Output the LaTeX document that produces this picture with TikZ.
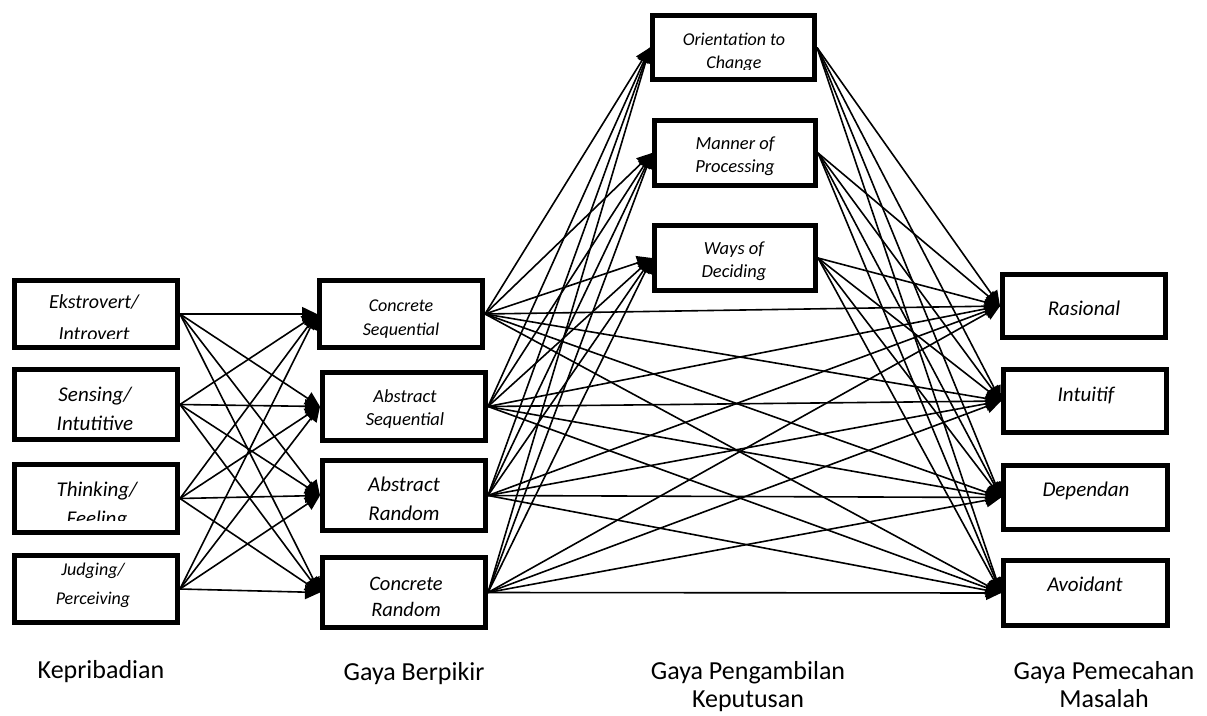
\documentclass[tikz,border=0pt]{standalone}
\usepackage{fontspec}
\setmainfont{Carlito}
\usetikzlibrary{arrows.meta}
\newcommand{\fsz}[2]{\fontsize{#1}{#2}\selectfont}
\newcommand{\twol}[2]{\begin{tabular}[t]{@{}c@{}}#1\\#2\end{tabular}}
\begin{document}
\begin{tikzpicture}[x=1pt,y=-1pt,
  box/.style={draw,line width=5pt,fill=white,inner sep=0pt,minimum width=163pt,minimum height=67pt},
  lbl/.style={font=\itshape,inner sep=0pt,anchor=base},
  conn/.style={line width=1.6pt,-{Triangle[length=15pt,width=14pt]}},
  colcaption/.style={inner sep=0pt,anchor=base,align=center,font=\fsz{26}{28}}]
\useasboundingbox (0,0) rectangle (1207,715);

% boxes
\node[box,minimum height=67pt] (a1) at (96,314) {};
\node[box,minimum height=70pt] (a2) at (96,404.5) {};
\node[box,minimum height=68pt] (a3) at (96,498.5) {};
\node[box,minimum height=67pt] (a4) at (96,589) {};

\node[box,minimum height=67pt] (b1) at (401,314) {};
\node[box,minimum height=68pt] (b2) at (404,406.5) {};
\node[box,minimum height=70pt] (b3) at (404,495.5) {};
\node[box,minimum height=70pt] (b4) at (404,592.5) {};

\node[box,minimum width=162pt,minimum height=64pt] (c1) at (733.5,47.5) {};
\node[box,minimum width=161pt,minimum height=65pt] (c2) at (735,153) {};
\node[box,minimum width=161pt,minimum height=65pt] (c3) at (735,258) {};

\node[box,minimum height=63pt] (d1) at (1084,306) {};
\node[box,minimum height=63pt] (d2) at (1085,401) {};
\node[box,minimum width=164pt,minimum height=64pt] (d3) at (1085.5,497.5) {};
\node[box,minimum width=164pt,minimum height=65pt] (d4) at (1085.5,593) {};

% connectors
\foreach \i in {1,...,4}{
  \foreach \j in {1,...,4}{
    \draw[conn] (a\i.east) -- (b\j.west);
    \draw[conn] (b\i.east) -- (d\j.west);
  }
  \foreach \j in {1,...,3}{
    \draw[conn] (b\i.east) -- (c\j.west);
  }
}
\foreach \i in {1,...,3}{
  \foreach \j in {1,...,4}{
    \draw[conn] (c\i.east) -- (d\j.west);
  }
}

% box texts
\begin{scope}
\clip (14,280) rectangle (178,338);
\node[lbl] (t1) at (94,308) {\fsz{20}{32}\itshape\twol{Ekstrovert/}{Introvert}};
\end{scope}
\node[lbl] (t2) at (95,401) {\fsz{21}{29}\itshape\twol{Sensing/}{Intutitive}};
\begin{scope}
\clip (14,464) rectangle (178,520);
\node[lbl] (t3) at (97,496.5) {\fsz{21}{28.5}\itshape\twol{Thinking/}{Feeling}};
\end{scope}
\node[lbl] (t4) at (93,575) {\fsz{18}{29}\itshape\twol{Judging/}{Perceiving}};

\node[lbl] (u1) at (401,311) {\fsz{18}{24}\itshape\twol{Concrete}{Sequential}};
\node[lbl] (u2) at (405,402) {\fsz{18.5}{23}\itshape\twol{Abstract}{Sequential}};
\node[lbl] (u3) at (404,491.5) {\fsz{21}{29}\itshape\twol{Abstract}{Random}};
\node[lbl] (u4) at (406,590) {\fsz{20.5}{26}\itshape\twol{Concrete}{Random}};

\begin{scope}
\clip (652,15) rectangle (815,69);
\node[lbl] (v1) at (734,45) {\fsz{18}{23.5}\itshape\twol{Orientation to}{Change}};
\end{scope}
\node[lbl] (v2) at (735,149) {\fsz{18.5}{23}\itshape\twol{Manner of}{Processing}};
\node[lbl] (v3) at (734,254) {\fsz{18.5}{23}\itshape\twol{Ways of}{Deciding}};

\node[lbl] (w1) at (1084,315.5) {\fsz{21}{25}Rasional};
\node[lbl] (w2) at (1086,401.5) {\fsz{21}{25}Intuitif};
\node[lbl] (w3) at (1086,496.5) {\fsz{21}{25}Dependan};
\node[lbl] (w4) at (1085,591.5) {\fsz{21}{25}Avoidant};

% column captions
\node[colcaption] (k1) at (101,678) {Kepribadian};
\node[colcaption] (k2) at (414,680) {Gaya Berpikir};
\node[colcaption] (k3) at (748,679) {\twol{Gaya Pengambilan}{Keputusan}};
\node[colcaption] (k4) at (1104,679) {\twol{Gaya Pemecahan}{Masalah}};
\end{tikzpicture}
\end{document}
